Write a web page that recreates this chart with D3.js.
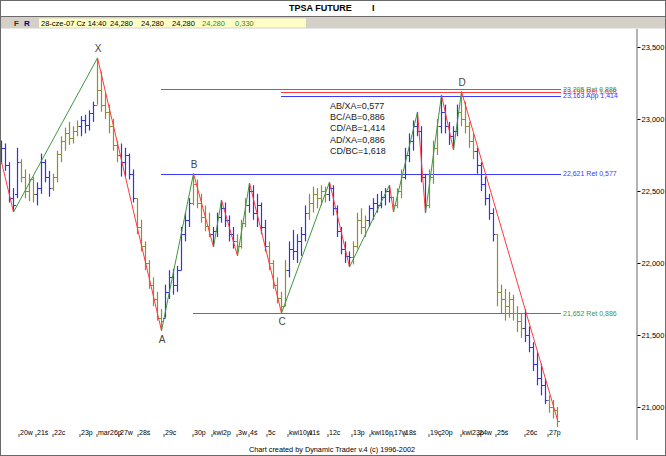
<!DOCTYPE html>
<html><head><meta charset="utf-8">
<script src="https://cdn.jsdelivr.net/npm/d3@7/dist/d3.min.js"></script>
<style>html,body{margin:0;padding:0;background:#fff;overflow:hidden}svg{display:block}</style>
</head><body>
<svg id="c" width="666" height="456"></svg>
<script>
// ---------- DATA ----------
const barHigh  = [22850,22830,22700,22520,22800,22720,22650,22620,22600,22560,22760,22720,22640,22620,22780,22880,22940,22980,22950,22990,
                  23020,23030,23060,23120,23424,23330,23180,23100,23000,22850,22830,22800,22760,22650,22450,22300,22150,22020,21900,21800,
                  21680,21850,21950,21960,21980,22250,22350,22450,22621,22580,22480,22400,22350,22250,22350,22437,22420,22330,22250,22200,
                  22300,22450,22555,22540,22480,22420,22300,22150,22020,21900,21800,22020,22150,22230,22200,22250,22400,22480,22530,22520,
                  22540,22530,22562,22540,22400,22250,22150,22080,22150,22350,22380,22330,22400,22450,22480,22500,22520,22541,22460,22520,
                  22650,22800,22900,22990,23049,22950,22620,22650,22850,23000,23167,23100,22980,22950,23100,23190,23120,22980,22900,22800,
                  22700,22600,22480,22380,22200,21850,21820,21800,21780,21700,21650,21680,21560,21450,21380,21300,21200,21080,21050,21000];
const barLow   = [22690,22640,22420,22354,22450,22560,22450,22430,22420,22400,22480,22560,22460,22500,22560,22700,22780,22820,22830,22880,
                  22880,22900,22920,22980,23100,23050,23000,22900,22780,22700,22600,22600,22580,22420,22200,22080,21950,21820,21700,21600,
                  21530,21620,21750,21780,21800,21950,22150,22250,22400,22380,22280,22220,22180,22111,22180,22280,22250,22150,22100,22049,
                  22100,22250,22350,22300,22250,22200,22080,21950,21820,21720,21652,21700,21900,22020,22000,22050,22150,22300,22350,22380,
                  22400,22420,22430,22330,22180,22060,22000,21972,21990,22100,22200,22180,22250,22300,22350,22380,22400,22420,22354,22380,
                  22450,22580,22700,22780,22880,22560,22347,22380,22550,22750,22900,22900,22820,22785,22880,22950,22900,22800,22720,22620,
                  22500,22400,22300,22150,21700,21650,21600,21620,21600,21520,21480,21450,21380,21250,21150,21080,21020,20960,20920,20860];
const barOpen  = [22720,22800,22680,22450,22480,22700,22600,22500,22580,22480,22520,22700,22600,22520,22600,22760,22850,22900,22870,22920,
                  22950,22990,22960,23040,23100,23200,23100,23050,22950,22820,22750,22700,22750,22620,22450,22250,22120,22000,21850,21750,
                  21620,21620,21800,21900,21850,21950,22200,22300,22420,22550,22420,22320,22260,22200,22220,22320,22380,22300,22200,22150,
                  22120,22280,22400,22500,22350,22400,22250,22120,22000,21850,21760,21700,21950,22100,22080,22150,22200,22350,22420,22480,
                  22450,22500,22480,22520,22380,22220,22100,22050,22040,22120,22300,22250,22300,22380,22420,22400,22460,22500,22460,22400,
                  22500,22600,22750,22850,22950,22920,22600,22400,22600,22800,22950,23050,22950,22880,22920,23050,23000,22950,22850,22780,
                  22680,22550,22450,22350,22200,21800,21750,21700,21750,21650,21600,21550,21500,21420,21300,21200,21150,21050,21000,20980];
const barClose = [22800,22680,22450,22400,22700,22600,22500,22580,22480,22520,22700,22600,22520,22600,22760,22850,22900,22870,22920,22950,
                  22990,22960,23040,23100,23200,23100,23050,22950,22820,22750,22700,22750,22620,22450,22250,22120,22000,21850,21750,21620,
                  21600,21800,21900,21850,21950,22200,22300,22420,22550,22420,22320,22260,22200,22220,22320,22380,22300,22200,22150,22120,
                  22280,22400,22500,22350,22400,22250,22120,22000,21850,21760,21700,21950,22100,22080,22150,22200,22350,22420,22480,22450,
                  22500,22480,22520,22380,22220,22100,22050,22040,22120,22300,22250,22300,22380,22420,22400,22460,22500,22460,22400,22500,
                  22600,22750,22850,22950,22920,22600,22400,22600,22800,22950,23050,22950,22880,22920,23050,23000,22950,22850,22780,22680,
                  22550,22450,22350,22200,21800,21750,21700,21750,21650,21600,21550,21500,21420,21300,21200,21150,21050,21000,20980,20900];

const dayTicks  = [4.25,8.5,12.75,19.5,23.75,29.25,34,40.5,47.75,52.5,58.75,61.75,66.25,71.5,76.5,81.5,87.5,92,97.75,100.5,106.75,109.5,114.75,119,123.5,130.75,136.5];
const dayLabels = ["20w","21ś","22c","23p","mar26p","27w","28ś","29c","30p","kwi2p","3w","4ś","5c","kwi10w","11ś","12c","13p","kwi16p","17w","18ś","19c","20p","kwi23p","24w","25ś","26c","27p"];
const priceTicks = [21000,21500,22000,22500,23000,23500];

const swingIdx = [0,3,24,40,48,53,55,59,62,70,82,87,97,98,104,106,110,113,115,139];
const swingVal = [22701,22354,23424,21530,22621,22111,22437,22049,22555,21652,22562,21972,22541,22354,23049,22347,23167,22785,23190,20910];

const pointNames = ["X","A","B","C","D"];
const pointIdx   = [24,40,48,70,115];
const pointVal   = [23424,21530,22621,21652,23190];

const levelVal   = [23205,23190,23163,22621,21652];
const levelFrom  = [40,70,70,40,48];
const levelText  = ["23,205 Ret 0,886","23,190 Ret 1,618","23,163 App 1,414","22,621 Ret 0,577","21,652 Ret 0,886"];

const ratioText = ["AB/XA=0,577","BC/AB=0,886","CD/AB=1,414","AD/XA=0,886","CD/BC=1,618"];

const quoteParts = ["28-cze-07 Cz 14:40","24,280","24,280","24,280","24,280","0,330"];

// ---------- STYLE ----------
const BLUE = "#3131f2", OLIVE = "#8e8e38", GREEN = "#3f973f", RED = "#ff3a3a";
const levelColors = ["#3c963c", "#ff3a3a", "#3a3aff", "#3a3aff", "#3c963c"];
const quoteX = [41,110,141,172,202,235];
const quoteColors = ["#000","#000","#000","#000","#2e8b2e","#2e8b2e"];
const FONT = "'Liberation Sans', Arial, sans-serif";

const svg = d3.select("#c").style("font-family", FONT);
const x = d3.scaleLinear().domain([0,140]).range([1,561]);
const y = d3.scaleLinear().domain([21000,23000]).range([407,119]);

svg.append("rect").attr("width",666).attr("height",456).attr("fill","#fff");

// header
svg.append("text").attr("x",289).attr("y",10.5).attr("font-size",9).attr("font-weight","bold").text("TPSA FUTURE");
svg.append("text").attr("x",372).attr("y",10.5).attr("font-size",9).attr("font-weight","bold").text("I");
svg.append("line").attr("x1",0).attr("x2",666).attr("y1",16.5).attr("y2",16.5).attr("stroke","#6a6a6a");
svg.append("rect").attr("x",1).attr("y",17).attr("width",664).attr("height",11).attr("fill","#d4d0c8");
svg.append("line").attr("x1",0).attr("x2",666).attr("y1",28.5).attr("y2",28.5).attr("stroke","#e8e8e8");
svg.append("text").attr("x",14).attr("y",26).attr("font-size",8).attr("font-weight","bold").attr("fill","#8b0000").text("F");
svg.append("text").attr("x",24).attr("y",26).attr("font-size",8).attr("font-weight","bold").attr("fill","#00008b").text("R");
svg.append("rect").attr("x",39).attr("y",18.5).attr("width",267).attr("height",9).attr("fill","#ffffc6");
svg.selectAll("text.q").data(quoteParts).join("text").attr("class","q")
  .attr("x",(d,i)=>quoteX[i]).attr("y",26).attr("font-size",7.5).attr("fill",(d,i)=>quoteColors[i]).text(d=>d);

// plot clip
svg.append("defs").append("clipPath").attr("id","pc").append("rect")
  .attr("x",1).attr("y",29).attr("width",635).attr("height",403);
const g = svg.append("g").attr("clip-path","url(#pc)");

// level lines
levelVal.forEach((v,i)=>{
  g.append("line").attr("x1",x(levelFrom[i])).attr("x2",x(140)).attr("y1",Math.round(y(v))+0.5).attr("y2",Math.round(y(v))+0.5)
   .attr("stroke",levelColors[i]).attr("stroke-width",1);
});

// bars
const dayOf = i => dayTicks.filter(t=>t<=i).length;
const bars = g.append("g");
barHigh.forEach((h,i)=>{
  const col = dayOf(i)%2===1 ? OLIVE : BLUE;
  const cx = Math.round(x(i))+0.5;
  bars.append("line").attr("x1",cx).attr("x2",cx).attr("y1",y(h)).attr("y2",y(barLow[i])).attr("stroke",col).attr("stroke-width",1.2);
  bars.append("line").attr("x1",cx-2.5).attr("x2",cx).attr("y1",Math.round(y(barOpen[i]))+0.5).attr("y2",Math.round(y(barOpen[i]))+0.5).attr("stroke",col);
  bars.append("line").attr("x1",cx).attr("x2",cx+2.5).attr("y1",Math.round(y(barClose[i]))+0.5).attr("y2",Math.round(y(barClose[i]))+0.5).attr("stroke",col);
});

// swing lines
for (let k=0;k<swingIdx.length-1;k++){
  const up = swingVal[k+1] > swingVal[k];
  g.append("line").attr("x1",x(swingIdx[k])+0.5).attr("y1",y(swingVal[k]))
   .attr("x2",x(swingIdx[k+1])+0.5).attr("y2",y(swingVal[k+1]))
   .attr("stroke", up ? GREEN : RED).attr("stroke-width",1);
}

// point labels
pointNames.forEach((n,i)=>{
  const high = i%2===0;
  svg.append("text").attr("x",x(pointIdx[i])+1).attr("y",y(pointVal[i]) + (high ? -6 : 12))
    .attr("text-anchor","middle").attr("font-size",10).attr("fill","#454545").text(n);
});

// level labels
levelVal.forEach((v,i)=>{
  svg.append("text").attr("x",563).attr("y",y(v)+2.5).attr("font-size",7).attr("fill",levelColors[i]).text(levelText[i]);
});

// ratios
ratioText.forEach((t,i)=>{
  svg.append("text").attr("x",330).attr("y",109+i*11.2).attr("font-size",9).attr("fill","#1a1a1a").text(t);
});

// right axis
svg.append("line").attr("x1",637).attr("x2",637).attr("y1",29).attr("y2",440).attr("stroke","#9a9a9a").attr("stroke-width",1.5);
const ay = svg.append("g").attr("transform","translate(637.5,0)")
  .call(d3.axisRight(y).tickValues(priceTicks).tickSize(3).tickPadding(1).tickFormat(d3.format(",")));
ay.select(".domain").remove();
ay.selectAll("text").attr("font-size",7.5).attr("font-family",FONT).attr("fill","#000");
ay.selectAll("line").attr("stroke","#000");

// bottom axis
const ax = svg.append("g").attr("transform","translate(0,434)")
  .call(d3.axisBottom(x).tickValues(dayTicks).tickSize(3).tickPadding(0).tickFormat((d,i)=>dayLabels[i]));
ax.select(".domain").remove();
ax.selectAll(".tick line").attr("stroke","#555").attr("transform","translate(0.5,0)");
ax.selectAll("text").attr("font-size",7).attr("font-family",FONT).attr("fill","#000")
  .attr("text-anchor","start").attr("dx",1.5).attr("dy","0.2em").attr("y",0);

svg.append("text").attr("x",332).attr("y",452).attr("text-anchor","middle").attr("font-size",7.3).attr("fill","#000")
  .text("Chart created by Dynamic Trader v.4  (c) 1996-2002");

// outer frame
svg.append("rect").attr("x",0.5).attr("y",0.5).attr("width",665).attr("height",455).attr("fill","none").attr("stroke","#6a6a6a");
</script>
</body></html>
